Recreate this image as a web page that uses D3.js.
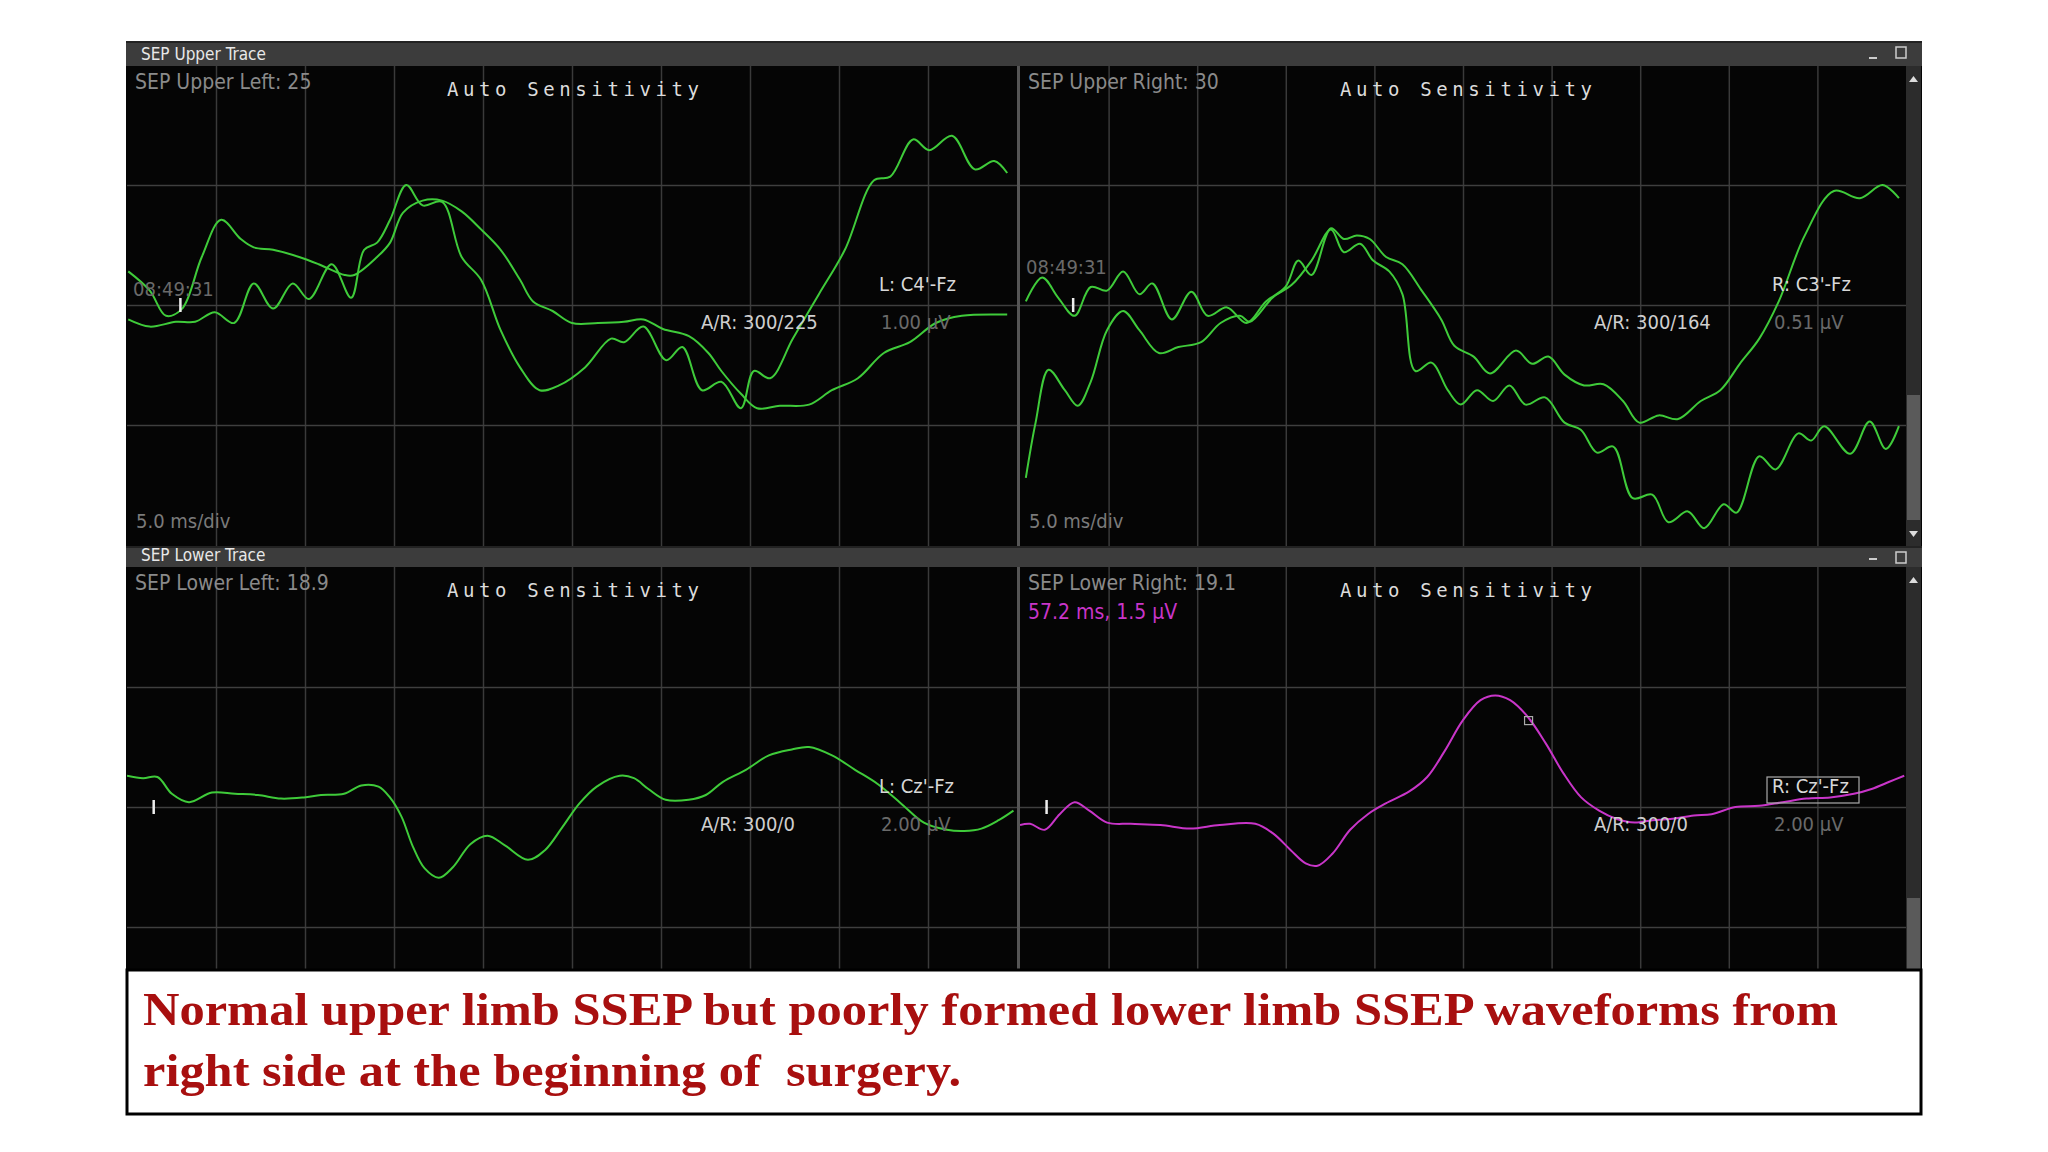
<!DOCTYPE html>
<html><head><meta charset="utf-8">
<script src="https://cdn.jsdelivr.net/npm/d3@7"></script>
<style>body{margin:0;background:#fff}svg{display:block}</style></head>
<body><svg id="c" width="2048" height="1152"></svg>
<script>
// time in ms, amplitude in divisions (above centre line)
const upperLeftA=[[0.07,0.28],[1.28,0.12],[2.19,-0.09],[3.10,-0.03],[4.20,0.40],[5.29,0.71],[6.39,0.55],[7.12,0.48],[8.21,0.46],[9.67,0.40],[10.77,0.34],[12.23,0.25],[12.77,0.25],[14.05,0.40],[14.78,0.52],[15.51,0.77],[16.61,0.87],[17.70,0.87],[18.80,0.78],[19.89,0.63],[20.99,0.46],[22.08,0.21],[22.81,0.03],[23.91,-0.05],[25.0,-0.15],[26.46,-0.15],[27.92,-0.14],[29.01,-0.12],[30.11,-0.20],[31.57,-0.26],[32.66,-0.40],[33.39,-0.55],[34.49,-0.74],[35.40,-0.86],[36.68,-0.84],[38.32,-0.83],[39.60,-0.71],[41.06,-0.61],[42.52,-0.40],[43.98,-0.31],[45.44,-0.15],[46.90,-0.09],[49.45,-0.08]];
const upperLeftB=[[0.07,-0.12],[1.28,-0.18],[2.74,-0.14],[3.83,-0.14],[4.93,-0.06],[6.02,-0.15],[7.12,0.18],[8.21,-0.03],[9.31,0.18],[10.22,0.05],[11.50,0.34],[12.59,0.06],[13.32,0.46],[14.05,0.52],[14.78,0.71],[15.69,1.00],[16.61,0.83],[17.70,0.86],[18.80,0.40],[19.89,0.21],[20.99,-0.21],[22.08,-0.52],[23.18,-0.71],[24.27,-0.67],[25.73,-0.52],[27.19,-0.28],[27.92,-0.31],[29.01,-0.18],[30.29,-0.46],[31.20,-0.35],[32.30,-0.71],[33.39,-0.64],[34.49,-0.86],[35.22,-0.55],[36.13,-0.61],[37.41,-0.28],[38.87,0.09],[40.33,0.46],[41.97,1.04],[42.88,1.07],[44.16,1.38],[45.07,1.29],[46.35,1.41],[47.63,1.13],[48.72,1.20],[49.45,1.10]];
const upperRightA=[[0.33,0.03],[1.25,0.23],[2.16,0.06],[3.08,-0.09],[3.99,0.15],[4.91,0.12],[5.82,0.28],[6.74,0.09],[7.47,0.18],[8.57,-0.12],[9.67,0.11],[10.59,-0.09],[11.68,-0.02],[12.78,-0.15],[13.88,0.03],[14.98,0.15],[15.71,0.37],[16.45,0.25],[17.55,0.64],[18.28,0.55],[19.01,0.58],[19.74,0.55],[20.66,0.40],[21.58,0.34],[22.67,0.12],[23.77,-0.12],[24.51,-0.34],[25.60,-0.43],[26.52,-0.57],[27.99,-0.38],[28.90,-0.49],[29.82,-0.43],[30.73,-0.58],[31.83,-0.67],[32.93,-0.66],[34.03,-0.80],[34.95,-0.98],[36.04,-0.92],[37.14,-0.95],[38.42,-0.80],[39.52,-0.71],[40.62,-0.49],[41.72,-0.28],[42.82,0.03],[44.29,0.58],[45.93,0.95],[47.40,0.89],[48.68,1.00],[49.60,0.89]];
const upperRightB=[[0.33,-1.44],[0.88,-0.98],[1.61,-0.54],[2.53,-0.71],[3.26,-0.84],[3.99,-0.64],[4.91,-0.21],[5.82,-0.05],[6.74,-0.21],[7.84,-0.40],[8.94,-0.35],[10.22,-0.31],[11.32,-0.15],[12.42,-0.09],[12.97,-0.14],[14.25,0.06],[15.35,0.17],[16.45,0.37],[17.55,0.63],[18.28,0.44],[19.19,0.51],[19.93,0.37],[20.84,0.28],[21.58,0.09],[22.31,-0.55],[23.22,-0.48],[24.14,-0.71],[24.87,-0.83],[25.79,-0.71],[26.70,-0.80],[27.62,-0.67],[28.53,-0.83],[29.63,-0.77],[30.73,-0.98],[31.65,-1.04],[32.56,-1.23],[33.48,-1.18],[34.58,-1.61],[35.68,-1.58],[36.59,-1.81],[37.69,-1.72],[38.61,-1.86],[39.71,-1.66],[40.44,-1.73],[41.72,-1.26],[42.64,-1.37],[43.92,-1.07],[44.65,-1.13],[45.38,-1.01],[46.85,-1.24],[47.95,-0.97],[48.86,-1.20],[49.60,-1.01]];
const lowerLeft=[[0,0.26],[0.90,0.24],[1.71,0.25],[2.52,0.11],[3.48,0.04],[4.77,0.12],[6.06,0.11],[7.35,0.10],[8.65,0.07],[9.94,0.08],[10.90,0.10],[12.19,0.11],[13.16,0.18],[14.13,0.17],[14.77,0.08],[15.42,-0.08],[16.06,-0.33],[16.71,-0.51],[17.52,-0.59],[18.32,-0.50],[19.29,-0.31],[20.26,-0.24],[21.23,-0.32],[22.52,-0.44],[23.48,-0.36],[24.45,-0.17],[25.42,0.03],[26.39,0.17],[27.68,0.26],[28.48,0.24],[29.29,0.15],[30.26,0.06],[31.55,0.06],[32.52,0.10],[33.48,0.21],[34.77,0.31],[36.06,0.43],[37.35,0.48],[38.32,0.50],[39.61,0.43],[40.90,0.31],[42.19,0.19],[43.48,0.03],[44.77,-0.13],[46.06,-0.19],[47.03,-0.20],[48.0,-0.18],[48.97,-0.11],[49.8,-0.03]];
const lowerRight=[[0,-0.15],[0.57,-0.14],[1.40,-0.19],[2.24,-0.06],[3.08,0.04],[3.91,-0.03],[4.92,-0.13],[6.25,-0.14],[7.93,-0.15],[9.60,-0.18],[11.27,-0.15],[13.28,-0.14],[14.28,-0.22],[15.28,-0.36],[16.12,-0.47],[16.79,-0.49],[17.63,-0.39],[18.63,-0.19],[19.63,-0.06],[20.64,0.03],[21.97,0.13],[22.98,0.25],[23.98,0.47],[24.98,0.72],[25.99,0.89],[26.82,0.93],[27.66,0.89],[28.66,0.75],[29.67,0.53],[30.67,0.28],[31.67,0.08],[32.68,-0.03],[33.68,-0.10],[34.68,-0.13],[35.69,-0.11],[36.69,-0.10],[38.03,-0.07],[39.03,-0.06],[40.37,0],[41.71,0.01],[43.04,0.04],[44.38,0.07],[45.72,0.08],[47.06,0.11],[48.06,0.15],[49.06,0.21],[49.9,0.26]];
const cursorPoint=[28.7,0.72];
const stimUpper=3.0, stimLower=1.5;
const timeTicks=d3.range(0,51,5);
const ampTicks=[-1,0,1];
const captionLines=["Normal upper limb SSEP but poorly formed lower limb SSEP waveforms from","right side at the beginning of  surgery."];

const svg=d3.select("#c");
const L=127, R=1921, MID=1018;
const GREEN="#3fcb3a", MAG="#c935c9";
const lblFont="'Liberation Sans Narrow','DejaVu Sans Condensed',sans-serif";
const BOT=969;

svg.append("rect").attr("x",L-1).attr("y",41).attr("width",R-L+2).attr("height",BOT-41).attr("fill","#050505");
function header(y,h,title){
  svg.append("rect").attr("x",L-1).attr("y",y).attr("width",R-L+2).attr("height",h).attr("fill","#3c3c3c");
  svg.append("rect").attr("x",L-1).attr("y",y).attr("width",R-L+2).attr("height",2).attr("fill","#222");
  svg.append("text").attr("x",141).attr("y",y+h-6).attr("fill","#e8e8e8").attr("font-family",lblFont).attr("font-size",17).text(title);
  svg.append("rect").attr("x",1869).attr("y",y+h-9).attr("width",8).attr("height",2).attr("fill","#ccc");
  svg.append("rect").attr("x",1896).attr("y",y+6).attr("width",10).attr("height",11).attr("fill","none").attr("stroke","#ccc").attr("stroke-width",1.5);
}
header(41,25,"SEP Upper Trace");
header(546,21,"SEP Lower Trace");

function panel(x0,PW,top,bottom,center,traces,color,info){
  const x=d3.scaleLinear().domain([0,50]).range([x0,x0+PW]);
  const y=d3.scaleLinear().domain([-2,2]).range([center+240,center-240]);
  const g=svg.append("g");
  g.append("clipPath").attr("id","cp"+x0+top).append("rect").attr("x",x0).attr("y",top).attr("width",PW).attr("height",bottom-top);
  const gc=g.append("g").attr("clip-path",`url(#cp${x0}${top})`);
  gc.append("g").attr("transform",`translate(0,${top})`).call(d3.axisBottom(x).tickValues(timeTicks.slice(1,10)).tickSize(bottom-top).tickFormat(""))
    .call(a=>{a.select(".domain").remove();a.selectAll("line").attr("stroke","#3a3a3a").attr("stroke-width",1.5);});
  gc.append("g").attr("transform",`translate(${x0},0)`).call(d3.axisRight(y).tickValues(ampTicks).tickSize(PW).tickFormat(""))
    .call(a=>{a.select(".domain").remove();a.selectAll("line").attr("stroke","#3f3f3f").attr("stroke-width",1.5);});
  const line=d3.line().x(d=>x(d[0])).y(d=>y(d[1])).curve(d3.curveCatmullRom);
  traces.forEach(t=>gc.append("path").attr("d",line(t)).attr("fill","none").attr("stroke",color).attr("stroke-width",2));
  const T=(tx,ty,s,fill,size,ff)=>g.append("text").attr("x",tx).attr("y",ty).attr("fill",fill).attr("font-size",size).attr("font-family",ff||lblFont).text(s);
  T(x0+8,top+23,info.name,"#8a8a8a",21);
  T(x0+320,top+30,"Auto Sensitivity","#dcdcdc",19,"'DejaVu Sans Mono',monospace").attr("letter-spacing",4.6);
  if(info.time) T(x0+6,info.timeY,info.time,"#6a6a6a",20);
  T(x0+752,center-14,info.lead,"#d8d8d8",20);
  T(x0+574,center+24,info.ar,"#cfcfcf",20);
  T(x0+754,center+24,info.uv,"#6a6a6a",20);
  if(info.scale) T(x0+9,bottom-18,"5.0 ms/div","#7a7a7a",20);
  g.append("line").attr("x1",x(info.stim)).attr("x2",x(info.stim)).attr("y1",center-7).attr("y2",center+7).attr("stroke","#eee").attr("stroke-width",2.5);
  return {x,y,g};
}
const ul=panel(127,890,66,546,305,[upperLeftA,upperLeftB],GREEN,{name:"SEP Upper Left: 25",time:"08:49:31",timeY:296,lead:"L: C4'-Fz",ar:"A/R: 300/225",uv:"1.00 µV",scale:true,stim:stimUpper});
const ur=panel(1020,886,66,546,305,[upperRightA,upperRightB],GREEN,{name:"SEP Upper Right: 30",time:"08:49:31",timeY:274,lead:"R: C3'-Fz",ar:"A/R: 300/164",uv:"0.51 µV",scale:true,stim:stimUpper});
const ll=panel(127,890,567,BOT,807,[lowerLeft],GREEN,{name:"SEP Lower Left: 18.9",lead:"L: Cz'-Fz",ar:"A/R: 300/0",uv:"2.00 µV",stim:stimLower});
const lr=panel(1020,886,567,BOT,807,[lowerRight],MAG,{name:"SEP Lower Right: 19.1",lead:"R: Cz'-Fz",ar:"A/R: 300/0",uv:"2.00 µV",stim:stimLower});
lr.g.append("text").attr("x",1028).attr("y",619).attr("fill",MAG).attr("font-family",lblFont).attr("font-size",21).text("57.2 ms, 1.5 µV");
lr.g.append("rect").attr("x",1767).attr("y",777).attr("width",92).attr("height",26).attr("fill","none").attr("stroke","#aaa").attr("stroke-width",1.2);
lr.g.append("rect").attr("x",lr.x(cursorPoint[0])-4).attr("y",lr.y(cursorPoint[1])-4).attr("width",8).attr("height",8).attr("fill","none").attr("stroke","#aaa").attr("stroke-width",1.2);
svg.append("rect").attr("x",MID-1).attr("y",66).attr("width",3).attr("height",480).attr("fill","#555");
svg.append("rect").attr("x",MID-1).attr("y",567).attr("width",3).attr("height",BOT-567).attr("fill","#555");
function scroll(top,bottom,t0,t1){
  svg.append("rect").attr("x",1906).attr("y",top).attr("width",15).attr("height",bottom-top).attr("fill","#2c2c2c");
  svg.append("rect").attr("x",1907).attr("y",t0).attr("width",13).attr("height",t1-t0).attr("fill","#5a5a5a");
  svg.append("path").attr("d",`M1909,${top+16}L1918,${top+16}L1913.5,${top+10}Z`).attr("fill","#ddd");
}
scroll(66,546,395,520);
svg.append("path").attr("d","M1909,531L1918,531L1913.5,537Z").attr("fill","#ddd");
scroll(567,BOT,898,BOT);
svg.append("rect").attr("x",127).attr("y",BOT+1).attr("width",R-127).attr("height",144).attr("fill","#fff").attr("stroke","#000").attr("stroke-width",3);
const capLen=[1695,818];
captionLines.forEach((t,i)=>svg.append("text").attr("x",143).attr("y",1025+i*61).attr("fill","#a80f0f").attr("font-family","'Liberation Serif','DejaVu Serif',serif").attr("font-weight","bold").attr("font-size",46).style("white-space","pre")
  .attr("textLength",capLen[i]).attr("lengthAdjust","spacingAndGlyphs").text(t));
</script></body></html>
